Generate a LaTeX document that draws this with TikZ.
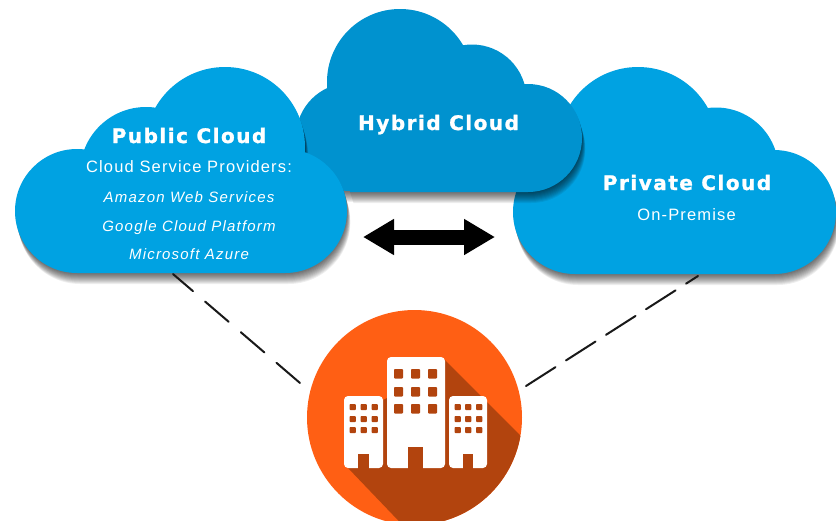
\documentclass[tikz,border=0pt]{standalone}
\usepackage{fontspec}
\setmainfont{Liberation Sans}
\newfontfamily\headfont[LetterSpace=7.5,FakeBold=1.3]{DejaVu Sans Bold}
\newfontfamily\subfont[LetterSpace=7]{Liberation Sans}
\newfontfamily\italfont[LetterSpace=8,ItalicFont={Liberation Sans Italic}]{Liberation Sans}
\usetikzlibrary{arrows.meta}
\definecolor{pubblue}{RGB}{0,162,226}
\definecolor{hybblue}{RGB}{0,146,207}
\definecolor{siteorange}{RGB}{255,95,20}
\definecolor{sitedark}{RGB}{178,68,14}
\tikzset{
  cloudtitle/.style={text=white,anchor=base,inner sep=0pt,font=\headfont\fontsize{20}{24}\selectfont},
  cloudsub/.style={text=white,anchor=base,inner sep=0pt,font=\subfont\fontsize{16.5}{19}\selectfont},
  clouditem/.style={text=white,anchor=base,inner sep=0pt,font=\italfont\itshape\fontsize{15}{18}\selectfont},
  dashline/.style={draw=black!90,line width=2pt,line cap=round},
  bigarrow/.style={draw=black,line width=15pt,{Triangle[length=31pt,width=34pt]}-{Triangle[length=31pt,width=34pt]}},
  building/.style={fill=white,rounded corners=4pt},
  darkpart/.style={fill=sitedark},
}
\def\pubpath{(77,211) circle (62) (285,211) circle (62) (146,173) circle (66) (225,147) circle (80)
  (77,211) -- (285,211) -- (285,273) -- (77,273) -- cycle
  (110,150) -- (290,150) -- (290,220) -- (110,220) -- cycle}
\def\hybpath{(400,82) circle (73) (472,99) circle (54.5) (528,138) circle (54) (350,137) circle (54)
  (350,137) -- (528,137) -- (528,192) -- (350,192) -- cycle
  (370,70) -- (500,70) -- (500,150) -- (370,150) -- cycle}
\def\pripath{(575,212) circle (62) (774,212) circle (62) (638,147) circle (80) (716,170) circle (62.5)
  (575,212) -- (774,212) -- (774,274) -- (575,274) -- cycle
  (600,150) -- (760,150) -- (760,220) -- (600,220) -- cycle}
\newcommand\cloudshape[2]{%
  \foreach \d in {1,2,...,11}
    \fill[black,fill opacity=0.065,shift={(\d*0.3,\d)}] #1;
  \fill[#2] #1;
}
\begin{document}
\begin{tikzpicture}[x=1pt,y=-1pt]
  \path[use as bounding box,clip] (0,0) rectangle (836,520);
  \fill[white] (0,0) rectangle (836,520);

  % clouds, back to front
  \cloudshape{\pripath}{pubblue}
  \cloudshape{\hybpath}{hybblue}
  \cloudshape{\pubpath}{pubblue}

  % texts
  \node[cloudtitle] (pubtitle) at (189,143) {Public Cloud};
  \node[cloudsub] (pubsub) at (189,172) {Cloud Service Providers:};
  \node[clouditem] (aws) at (189,202) {Amazon Web Services};
  \node[clouditem] (gcp) at (189,231) {Google Cloud Platform};
  \node[clouditem] (azure) at (189,259) {Microsoft Azure};
  \node[cloudtitle] (hybtitle) at (438.5,130) {Hybrid Cloud};
  \node[cloudtitle] (pritle) at (687,190) {Private Cloud};
  \node[cloudsub] (prisub) at (686.5,220) {On-Premise};

  % double arrow
  \coordinate (arrowL) at (363,237);
  \coordinate (arrowR) at (495,237);
  \draw[bigarrow] (arrowL) -- (arrowR);

  % dashed links
  \coordinate (pubfoot) at (173,274);
  \coordinate (siteL) at (300,383);
  \coordinate (prifoot) at (698,276);
  \coordinate (siteR) at (526,386);
  \draw[dashline,dash pattern=on 31pt off 16pt] (siteL) -- (pubfoot);
  \draw[dashline,dash pattern=on 35pt off 12.5pt] (siteR) -- (prifoot);

  % site badge
  \node[circle,fill=siteorange,minimum size=215pt,inner sep=0pt] (site) at (414.5,417.5) {};
  \begin{scope}
    \clip (414.5,417.5) circle (107.5);
    \fill[darkpart] (445,360) -- (565,480) -- (460,585) -- (348,468) -- (348,460) -- (383,400) -- (387,398) -- cycle;
  \end{scope}
  % buildings
  \fill[building] (344,396) rectangle (383,468);
  \fill[building] (387,357) rectangle (445,468);
  \fill[building] (449,396) rectangle (487,468);
  \fill[darkpart] (408,447) rectangle (423,468.5);
  \fill[darkpart] (358,454) rectangle (369,468.5);
  \fill[darkpart] (463,454) rectangle (473,468.5);
  \foreach \wx in {394,411,428}
    \foreach \wy in {369,387,404}
      \fill[darkpart,rounded corners=0.8pt] (\wx,\wy) rectangle ++(9,9.5);
  \foreach \wx in {349.5,360.5,371.5,454.5,465,476}
    \foreach \wy in {404,416,427}
      \fill[darkpart,rounded corners=0.8pt] (\wx,\wy) rectangle ++(6.3,6);
\end{tikzpicture}
\end{document}
